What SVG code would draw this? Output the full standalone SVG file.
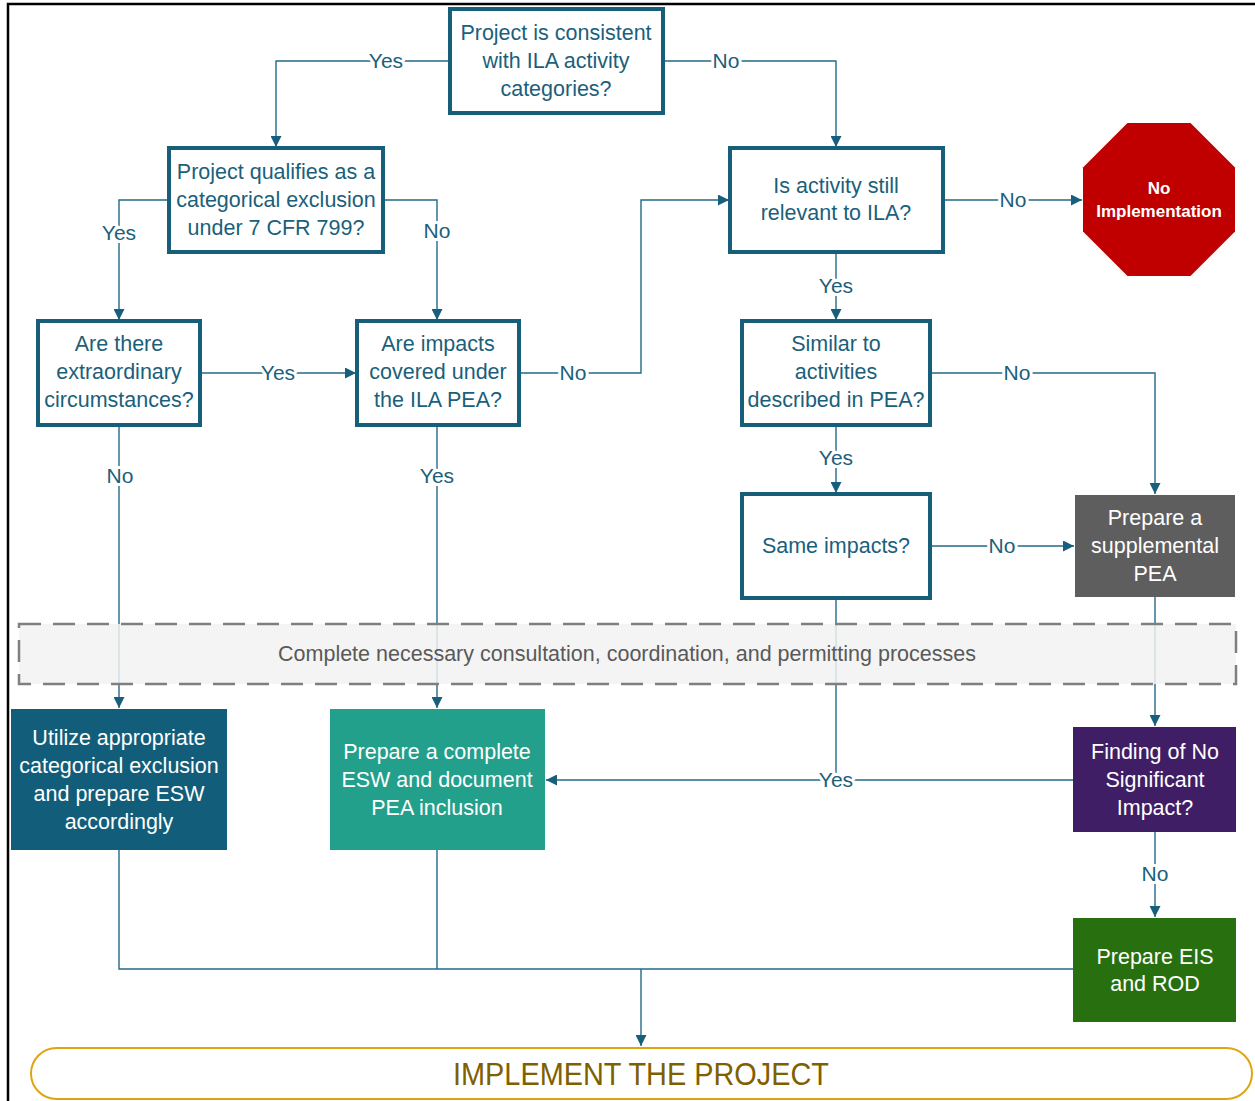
<svg xmlns="http://www.w3.org/2000/svg" width="1255" height="1101" viewBox="0 0 1255 1101">
<defs>
<marker id="ah" viewBox="0 0 10 10" refX="10" refY="5" markerWidth="11" markerHeight="11" markerUnits="userSpaceOnUse" orient="auto">
<path d="M0,0 L10,5 L0,10 z" fill="#175F7C"/>
</marker>
<style>
.q{fill:#fff;stroke:#175E7B;stroke-width:4}
.t{font-family:"Liberation Sans",Arial,sans-serif;font-size:21.5px;fill:#1B5F7B;text-anchor:middle}
.w{font-family:"Liberation Sans",Arial,sans-serif;font-size:21.5px;fill:#fff;text-anchor:middle}
.c{fill:none;stroke:#23698A;stroke-width:1.4}
.a{marker-end:url(#ah)}
.l{font-family:"Liberation Sans",Arial,sans-serif;font-size:21px;fill:#1B5F7B;text-anchor:middle;stroke:#fff;stroke-width:6;paint-order:stroke;stroke-linejoin:round}
</style>
</defs>
<rect x="0" y="0" width="1255" height="1101" fill="#fff"/>
<rect x="8" y="4" width="1270" height="1120" fill="none" stroke="#000" stroke-width="2.5"/>

<g id="connectors">
<path class="c a" d="M450,61 H276 V147"/>
<path class="c a" d="M663,61 H836 V147"/>
<path class="c a" d="M169,200 H119 V320"/>
<path class="c a" d="M383,200 H437 V320"/>
<path class="c a" d="M200,373 H356"/>
<path class="c a" d="M519,373 H641 V200 H729"/>
<path class="c a" d="M943,200 H1082"/>
<path class="c a" d="M836,252 V320"/>
<path class="c a" d="M836,425 V493"/>
<path class="c a" d="M930,373 H1155 V494"/>
<path class="c a" d="M930,546 H1074"/>
<path class="c" d="M836,598 V780"/>
<path class="c a" d="M1073,780 H546"/>
<path class="c a" d="M119,425 V708"/>
<path class="c a" d="M437,425 V708"/>
<path class="c a" d="M1155,597 V726"/>
<path class="c a" d="M1155,832 V917"/>
<path class="c" d="M119,850 V969 H1073 M437,850 V969"/>
<path class="c a" d="M641,969 V1046"/>
<text class="l" x="386" y="68">Yes</text>
<text class="l" x="726" y="68">No</text>
<text class="l" x="119" y="240">Yes</text>
<text class="l" x="437" y="238">No</text>
<text class="l" x="278" y="380">Yes</text>
<text class="l" x="573" y="380">No</text>
<text class="l" x="1013" y="207">No</text>
<text class="l" x="836" y="293">Yes</text>
<text class="l" x="836" y="465">Yes</text>
<text class="l" x="1017" y="380">No</text>
<text class="l" x="1002" y="553">No</text>
<text class="l" x="836" y="787">Yes</text>
<text class="l" x="120" y="483">No</text>
<text class="l" x="437" y="483">Yes</text>
<text class="l" x="1155" y="881">No</text>
</g>

<g id="band">
<rect x="19" y="624" width="1217" height="60" fill="#F2F2F2" fill-opacity="0.85" stroke="#7F7F7F" stroke-width="2.5" stroke-dasharray="22,12"/>
<text x="627" y="661" style="font-family:'Liberation Sans',Arial,sans-serif;font-size:21.5px;fill:#595959;text-anchor:middle">Complete necessary consultation, coordination, and permitting processes</text>
</g>

<g id="n-consistent">
<rect class="q" x="450" y="9" width="213" height="104"/>
<text class="t" x="556" y="40">Project is consistent</text>
<text class="t" x="556" y="68">with ILA activity</text>
<text class="t" x="556" y="96">categories?</text>
</g>
<g id="n-qualifies">
<rect class="q" x="169" y="148" width="214" height="104"/>
<text class="t" x="276" y="179">Project qualifies as a</text>
<text class="t" x="276" y="207">categorical exclusion</text>
<text class="t" x="276" y="235">under 7 CFR 799?</text>
</g>
<g id="n-relevant">
<rect class="q" x="730" y="148" width="213" height="104"/>
<text class="t" x="836" y="193">Is activity still</text>
<text class="t" x="836" y="220">relevant to ILA?</text>
</g>
<g id="n-noimpl">
<polygon points="1127.5,123 1190.5,123 1235,167.5 1235,231.5 1190.5,276 1127.5,276 1083,231.5 1083,167.5" fill="#C00000"/>
<text x="1159" y="194" style="font-family:'Liberation Sans',Arial,sans-serif;font-size:17px;font-weight:bold;fill:#fff;text-anchor:middle">No</text>
<text x="1159" y="217" style="font-family:'Liberation Sans',Arial,sans-serif;font-size:17px;font-weight:bold;fill:#fff;text-anchor:middle">Implementation</text>
</g>
<g id="n-extra">
<rect class="q" x="38" y="321" width="162" height="104"/>
<text class="t" x="119" y="351">Are there</text>
<text class="t" x="119" y="379">extraordinary</text>
<text class="t" x="119" y="407">circumstances?</text>
</g>
<g id="n-covered">
<rect class="q" x="357" y="321" width="162" height="104"/>
<text class="t" x="438" y="351">Are impacts</text>
<text class="t" x="438" y="379">covered under</text>
<text class="t" x="438" y="407">the ILA PEA?</text>
</g>
<g id="n-similar">
<rect class="q" x="742" y="321" width="188" height="104"/>
<text class="t" x="836" y="351">Similar to</text>
<text class="t" x="836" y="379">activities</text>
<text class="t" x="836" y="407">described in PEA?</text>
</g>
<g id="n-same">
<rect class="q" x="742" y="494" width="188" height="104"/>
<text class="t" x="836" y="553">Same impacts?</text>
</g>
<g id="n-supp">
<rect x="1075" y="495" width="160" height="102" fill="#5E5E5E"/>
<text class="w" x="1155" y="525">Prepare a</text>
<text class="w" x="1155" y="553">supplemental</text>
<text class="w" x="1155" y="581">PEA</text>
</g>
<g id="n-utilize">
<rect x="11" y="709" width="216" height="141" fill="#125E7A"/>
<text class="w" x="119" y="745">Utilize appropriate</text>
<text class="w" x="119" y="773">categorical exclusion</text>
<text class="w" x="119" y="801">and prepare ESW</text>
<text class="w" x="119" y="829">accordingly</text>
</g>
<g id="n-complete">
<rect x="330" y="709" width="215" height="141" fill="#22A08B"/>
<text class="w" x="437" y="759">Prepare a complete</text>
<text class="w" x="437" y="787">ESW and document</text>
<text class="w" x="437" y="815">PEA inclusion</text>
</g>
<g id="n-fonsi">
<rect x="1073" y="727" width="163" height="105" fill="#3F1E66"/>
<text class="w" x="1155" y="759">Finding of No</text>
<text class="w" x="1155" y="787">Significant</text>
<text class="w" x="1155" y="815">Impact?</text>
</g>
<g id="n-eis">
<rect x="1073" y="918" width="163" height="104" fill="#28700F"/>
<text class="w" x="1155" y="964">Prepare EIS</text>
<text class="w" x="1155" y="991">and ROD</text>
</g>
<g id="n-implement">
<rect x="31" y="1048" width="1221" height="51" rx="25.5" fill="#fff" stroke="#E0A412" stroke-width="2"/>
<text x="641" y="1085" textLength="376" lengthAdjust="spacingAndGlyphs" style="font-family:'Liberation Sans',Arial,sans-serif;font-size:32px;fill:#7F6000;text-anchor:middle">IMPLEMENT THE PROJECT</text>
</g>
</svg>
